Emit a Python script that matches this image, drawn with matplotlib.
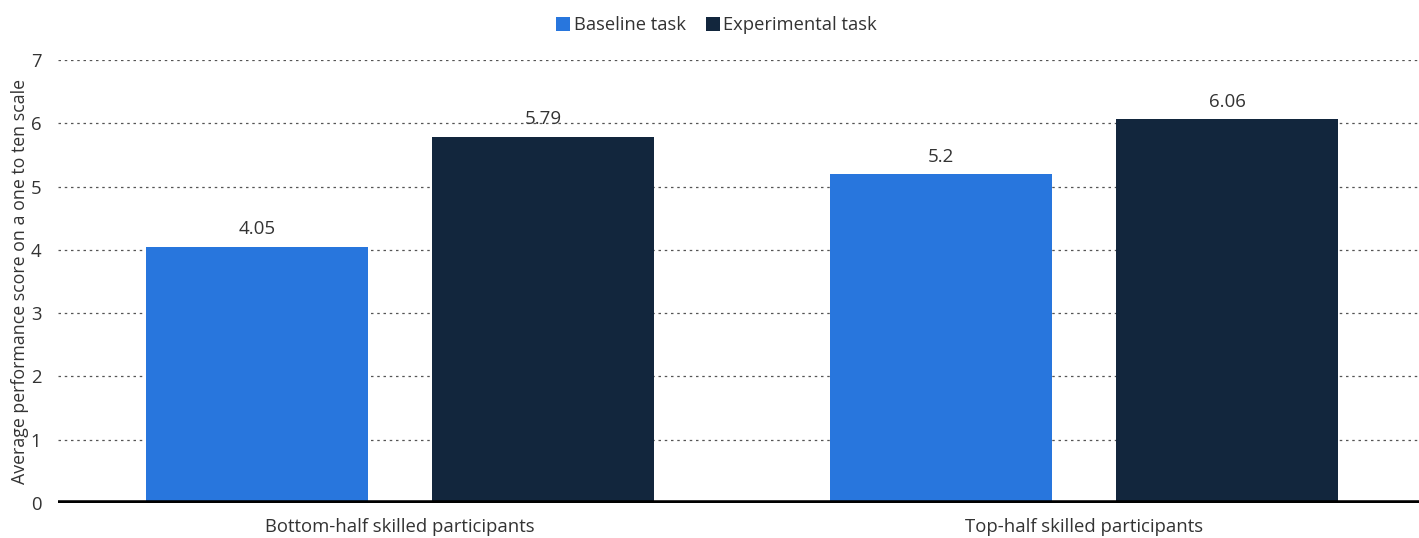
import matplotlib
matplotlib.use("Agg")
import matplotlib.pyplot as plt
import numpy as np

categories = ["Bottom-half skilled participants", "Top-half skilled participants"]
series_names = ["Baseline task", "Experimental task"]
baseline = [4.05, 5.2]
experimental = [5.79, 6.06]
value_labels_baseline = ["4.05", "5.2"]
value_labels_experimental = ["5.79", "6.06"]
colors = ["#2876dd", "#12263d"]

plt.rcParams['font.family'] = ['Open Sans', 'DejaVu Sans']

fig = plt.figure(figsize=(14.19, 5.38), dpi=100)
ax = fig.add_axes([0.0409, 0.065, 0.959, 0.8235])

x = np.arange(len(categories))
w = 0.3246
off = 0.2094
b1 = ax.bar(x - off, baseline, w, color=colors[0], label=series_names[0], zorder=3)
b2 = ax.bar(x + off, experimental, w, color=colors[1], label=series_names[1], zorder=3)

for bars, labs in ((b1, value_labels_baseline), (b2, value_labels_experimental)):
    for r, lab in zip(bars, labs):
        ax.annotate(lab, (r.get_x() + r.get_width() / 2, r.get_height()),
                    xytext=(0, 6), textcoords="offset points", ha="center", va="bottom",
                    fontsize=13.5, color="#333333")

ax.set_xlim(-0.5, 1.49)
ax.set_ylim(0, 7)
ax.set_yticks(range(0, 8))
ax.set_xticks(x)
ax.set_xticklabels(categories, fontsize=13.3, color="#333333")
ax.tick_params(axis='y', labelsize=13.3, colors="#333333", length=0, pad=12)
ax.tick_params(axis='x', length=0, pad=11)
ax.yaxis.grid(True, linestyle=(0, (2, 3)), color="#555555", linewidth=0.9, zorder=0)
for s in ax.spines.values():
    s.set_visible(False)
ax.axhline(0, color="black", linewidth=4, zorder=4)
ax.set_ylabel("Average performance score on a one to ten scale", fontsize=12.8, color="#333333", labelpad=1)

fig.legend(loc="upper center", bbox_to_anchor=(0.505, 1.0), ncol=2, frameon=False,
           fontsize=13.2, handlelength=0.75, handleheight=0.75, handletextpad=0.2, columnspacing=1.1,
           labelcolor="#333333")

fig.savefig("out.png", dpi=100)
